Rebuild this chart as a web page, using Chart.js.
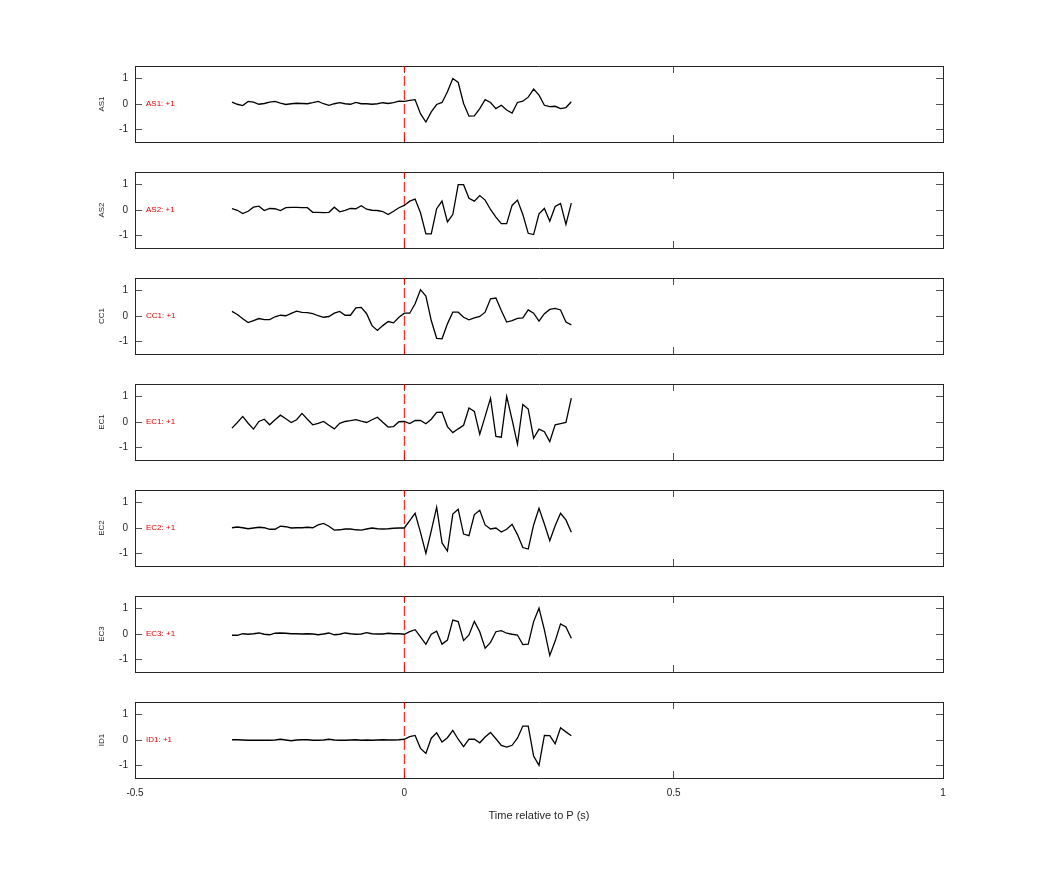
<!DOCTYPE html>
<html>
<head>
<meta charset="utf-8">
<script src="https://cdn.jsdelivr.net/npm/chart.js@4.4.1/dist/chart.umd.min.js"></script>
<style>
  html, body { margin: 0; padding: 0; background: #fff; }
  #wrap { position: relative; width: 1042px; height: 875px; background: #fff; }
  #wrap canvas { position: absolute; left: 0; }
</style>
</head>
<body>
<div id="wrap"></div>
<script>
// datos de las trazas (muestreo 100 Hz, tiempo relativo a la P)
const timeSec = [-0.32,-0.31,-0.30,-0.29,-0.28,-0.27,-0.26,-0.25,-0.24,-0.23,
  -0.22,-0.21,-0.20,-0.19,-0.18,-0.17,-0.16,-0.15,-0.14,-0.13,
  -0.12,-0.11,-0.10,-0.09,-0.08,-0.07,-0.06,-0.05,-0.04,-0.03,
  -0.02,-0.01,0.00,0.01,0.02,0.03,0.04,0.05,0.06,0.07,
  0.08,0.09,0.10,0.11,0.12,0.13,0.14,0.15,0.16,0.17,
  0.18,0.19,0.20,0.21,0.22,0.23,0.24,0.25,0.26,0.27,
  0.28,0.29,0.30,0.31];

const stations = ["AS1", "AS2", "CC1", "EC1", "EC2", "EC3", "ID1"];
const gainLabels = ["AS1: +1", "AS2: +1", "CC1: +1", "EC1: +1", "EC2: +1", "EC3: +1", "ID1: +1"];

const as1 = [0.07,-0.01,-0.06,0.10,0.07,-0.01,0.02,0.07,0.10,0.03,
  -0.02,0.01,0.03,0.02,0.01,0.05,0.10,0.01,-0.05,0.01,
  0.05,0.01,-0.01,0.06,0.01,0.01,-0.01,0.01,0.05,0.02,
  0.05,0.11,0.10,0.14,0.17,-0.38,-0.71,-0.31,-0.02,0.06,
  0.48,1.01,0.85,0.02,-0.48,-0.47,-0.18,0.17,0.06,-0.18,
  -0.05,-0.24,-0.36,0.06,0.11,0.27,0.59,0.35,-0.05,-0.10,
  -0.09,-0.18,-0.14,0.09];
const as2 = [0.05,-0.01,-0.14,-0.05,0.11,0.15,-0.02,0.06,0.05,-0.02,
  0.09,0.10,0.10,0.09,0.09,-0.09,-0.09,-0.10,-0.09,0.11,
  -0.07,-0.01,0.06,0.05,0.17,0.03,-0.01,-0.02,-0.06,-0.18,
  -0.05,0.09,0.18,0.35,0.43,-0.11,-0.94,-0.94,0.05,0.35,
  -0.47,-0.18,1.00,1.00,0.46,0.35,0.57,0.39,0.02,-0.28,
  -0.54,-0.54,0.18,0.39,-0.18,-0.92,-0.97,-0.15,0.06,-0.44,
  0.14,0.26,-0.57,0.27];
const cc1 = [0.18,0.06,-0.11,-0.26,-0.18,-0.10,-0.14,-0.14,-0.03,0.03,
  0.01,0.10,0.19,0.14,0.13,0.09,0.01,-0.05,-0.02,0.11,
  0.18,0.03,0.03,0.32,0.34,0.09,-0.38,-0.57,-0.38,-0.22,
  -0.27,-0.05,0.11,0.11,0.48,1.04,0.79,-0.18,-0.88,-0.90,
  -0.31,0.15,0.15,-0.05,-0.15,-0.07,-0.02,0.15,0.68,0.71,
  0.22,-0.24,-0.18,-0.09,-0.07,0.24,0.11,-0.20,0.09,0.26,
  0.30,0.24,-0.24,-0.35];
const ec1 = [-0.24,-0.02,0.22,-0.05,-0.28,0.02,0.11,-0.11,0.09,0.27,
  0.13,-0.02,0.09,0.34,0.11,-0.11,-0.05,0.02,-0.13,-0.27,
  -0.05,0.02,0.05,0.09,0.03,-0.02,0.09,0.19,-0.01,-0.20,
  -0.18,0.01,0.02,-0.06,0.06,0.06,-0.07,0.11,0.38,0.39,
  -0.18,-0.42,-0.27,-0.13,0.55,0.42,-0.48,0.22,0.94,-0.57,
  -0.60,1.01,0.09,-0.87,0.69,0.51,-0.64,-0.28,-0.38,-0.77,
  -0.11,-0.06,-0.02,0.94];
const ec2 = [0.01,0.04,0.01,-0.03,0.00,0.03,0.01,-0.05,-0.05,0.07,
  0.05,0.00,0.01,0.01,0.03,0.01,0.12,0.18,0.07,-0.08,
  -0.07,-0.04,-0.04,-0.07,-0.08,-0.04,0.00,-0.03,-0.04,-0.03,
  -0.01,0.00,0.00,0.29,0.58,-0.17,-1.00,-0.11,0.82,-0.59,
  -0.91,0.55,0.74,-0.24,-0.30,0.53,0.70,0.12,-0.04,0.00,
  -0.16,-0.05,0.15,-0.26,-0.77,-0.83,0.12,0.78,0.16,-0.50,
  0.09,0.58,0.32,-0.17];
const ec3 = [-0.05,-0.05,0.01,-0.01,0.01,0.04,-0.01,-0.03,0.03,0.04,
  0.03,0.01,0.01,0.00,0.01,0.00,-0.03,0.00,0.04,-0.03,
  -0.01,0.04,0.01,-0.01,0.00,0.05,0.01,0.00,0.00,0.03,
  0.01,0.01,-0.01,0.09,0.17,-0.11,-0.41,-0.01,0.11,-0.40,
  -0.24,0.55,0.49,-0.26,-0.04,0.50,0.09,-0.56,-0.33,0.09,
  0.13,0.03,-0.01,-0.04,-0.42,-0.40,0.49,1.02,0.16,-0.85,
  -0.28,0.40,0.28,-0.17];
const id1 = [0.01,0.01,0.00,-0.01,-0.01,-0.01,-0.01,-0.01,0.00,0.03,
  0.00,-0.03,0.00,0.01,0.01,-0.01,-0.01,0.00,0.03,0.00,
  -0.01,-0.01,0.00,0.01,-0.01,0.00,-0.01,0.00,0.01,0.00,
  0.00,0.01,0.03,0.13,0.18,-0.33,-0.53,0.07,0.28,-0.08,
  0.09,0.38,0.03,-0.26,0.03,0.03,-0.11,0.12,0.30,0.05,
  -0.21,-0.28,-0.21,0.07,0.55,0.55,-0.63,-1.00,0.18,0.17,
  -0.15,0.48,0.32,0.17];

const traces = [as1, as2, cc1, ec1, ec2, ec3, id1];

const xTicks = [-0.5, 0, 0.5, 1];
const yTicks = [-1, 0, 1];
const xRange = [-0.5, 1];
const yRange = [-1.5, 1.5];
const pickTime = 0;
const xTitle = "Time relative to P (s)";

const AXIS = "#262626";
const FONT = "'Liberation Sans', Arial, Helvetica, sans-serif";

// etiqueta roja de ganancia dentro de cada panel
const gainLabelPlugin = {
  id: "gainLabel",
  afterDatasetsDraw(chart, args, opts) {
    const { ctx, chartArea, scales } = chart;
    ctx.save();
    ctx.fillStyle = "#e00000";
    ctx.font = "8px " + FONT;
    ctx.textAlign = "left";
    ctx.textBaseline = "middle";
    ctx.fillText(opts.text, chartArea.left + 11, scales.y.getPixelForValue(0));
    ctx.restore();
  }
};

function tickGrid() {
  return { display: true, drawOnChartArea: false, drawTicks: true, tickLength: -7, color: AXIS, lineWidth: 0.8 };
}

// quita los márgenes que Chart.js reserva para las etiquetas extremas
function noPad(s) {
  s.paddingTop = 0; s.paddingBottom = 0; s.paddingLeft = 0; s.paddingRight = 0;
}

const wrap = document.getElementById("wrap");
stations.forEach((name, i) => {
  const last = i === stations.length - 1;
  const canvas = document.createElement("canvas");
  const h = last ? 140 : 96;
  canvas.width = 1042;
  canvas.height = h;
  canvas.style.width = "1042px";
  canvas.style.height = h + "px";
  canvas.style.top = (56 + 106 * i) + "px";
  wrap.appendChild(canvas);

  new Chart(canvas.getContext("2d"), {
    type: "line",
    data: {
      datasets: [
        {
          data: timeSec.map((t, k) => ({ x: t, y: traces[i][k] })),
          borderColor: "#000",
          borderWidth: 1.3,
          pointRadius: 0,
          tension: 0,
          fill: false
        },
        {
          data: [{ x: pickTime, y: yRange[0] }, { x: pickTime, y: yRange[1] }],
          borderColor: "#ff0000",
          borderWidth: 1,
          borderDash: [10, 4],
          pointRadius: 0,
          fill: false
        }
      ]
    },
    options: {
      responsive: false,
      animation: false,
      devicePixelRatio: 1,
      layout: { padding: { left: 90, right: 99, top: 10, bottom: last ? 0 : 10 } },
      plugins: {
        legend: { display: false },
        tooltip: { enabled: false },
        gainLabel: { text: gainLabels[i] }
      },
      scales: {
        x: {
          type: "linear", position: "bottom", min: xRange[0], max: xRange[1], z: 1,
          afterBuildTicks: s => { s.ticks = xTicks.map(v => ({ value: v })); },
          afterFit: s => { s.height = last ? 54 : 0; noPad(s); },
          grid: tickGrid(),
          border: { display: true, color: AXIS, width: 1 },
          ticks: { display: last, color: AXIS, padding: 16, maxRotation: 0, callback: v => String(v), font: { family: FONT, size: 10 } },
          title: { display: last, text: xTitle, color: AXIS, padding: { top: 0, bottom: 9 }, font: { family: FONT, size: 11 } }
        },
        xTop: {
          type: "linear", position: "top", min: xRange[0], max: xRange[1], z: 1,
          afterBuildTicks: s => { s.ticks = xTicks.map(v => ({ value: v })); },
          afterFit: s => { s.height = 0; noPad(s); },
          grid: tickGrid(),
          border: { display: true, color: AXIS, width: 1 },
          ticks: { display: false }
        },
        y: {
          type: "linear", position: "left", min: yRange[0], max: yRange[1],
          afterBuildTicks: s => { s.ticks = yTicks.map(v => ({ value: v })); },
          afterFit: s => { s.width = 45; noPad(s); },
          grid: tickGrid(),
          border: { display: true, color: AXIS, width: 1 },
          ticks: { color: AXIS, padding: 14, callback: v => String(v), font: { family: FONT, size: 10 } },
          title: { display: true, text: name, color: AXIS, padding: { top: 7, bottom: 0 }, font: { family: FONT, size: 8 } }
        },
        yRight: {
          type: "linear", position: "right", min: yRange[0], max: yRange[1],
          afterBuildTicks: s => { s.ticks = yTicks.map(v => ({ value: v })); },
          afterFit: s => { s.width = 0; noPad(s); },
          grid: tickGrid(),
          border: { display: true, color: AXIS, width: 1 },
          ticks: { display: false }
        }
      }
    },
    plugins: [gainLabelPlugin]
  });
});
</script>
</body>
</html>
